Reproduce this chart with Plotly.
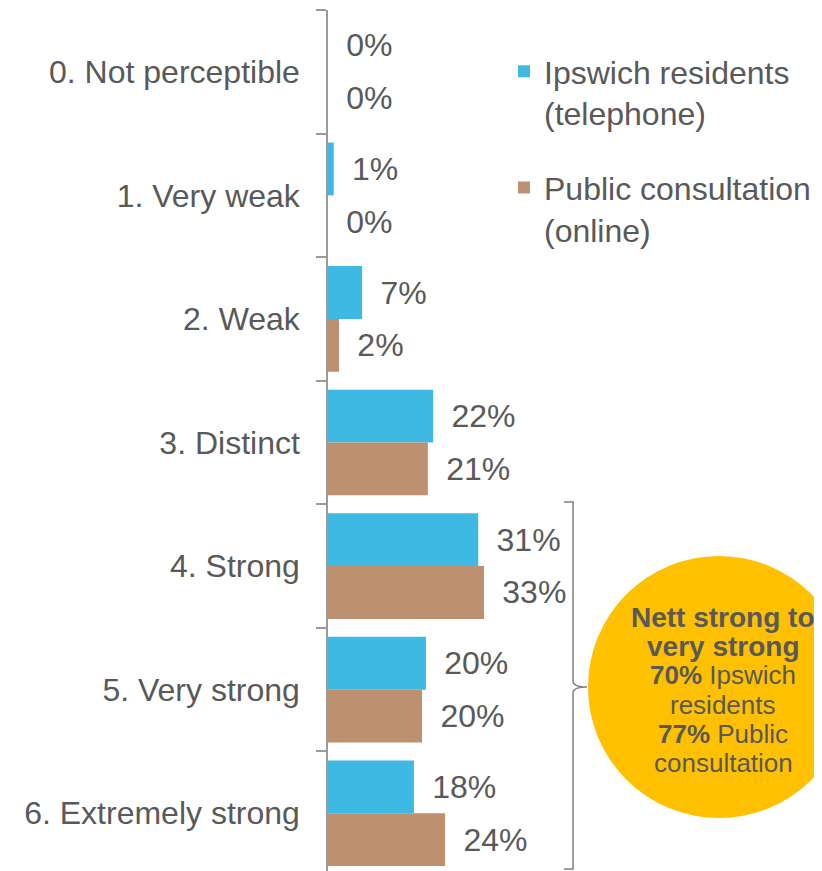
import plotly.graph_objects as go

# Perceived odour strength, share of respondents
categories = [
    "0. Not perceptible",
    "1. Very weak",
    "2. Weak",
    "3. Distinct",
    "4. Strong",
    "5. Very strong",
    "6. Extremely strong",
]
ipswich_values = [0, 1.2, 7.1, 21.9, 31.3, 20.4, 17.9]
public_values = [0, 0, 2.3, 20.8, 32.5, 19.6, 24.4]
ipswich_labels = [0, 1, 7, 22, 31, 20, 18]
public_labels = [0, 0, 2, 21, 33, 20, 24]

series_names = ["Ipswich residents<br>(telephone)", "Public consultation<br>(online)"]
circle_lines = [
    "<b>Nett strong to</b>",
    "<b>very strong</b>",
    "<b>70%</b> Ipswich",
    "residents",
    "<b>77%</b> Public",
    "consultation",
]

BLUE = "#3DB9E3"
BROWN = "#BD9170"
GOLD = "#FFC000"
TEXT = "#595959"
AXIS = "#9A9A9A"
FONT = "Liberation Sans, Arial, sans-serif"

# the page body adds an 8px margin, so every page position below is
# shifted back by that amount; the bottom of the figure runs off the page
PAGE_OFF = 8
FIG_W, FIG_H = 822 - PAGE_OFF, 871
PLOT_L, PLOT_W = 328 - PAGE_OFF, 240
PLOT_T, PLOT_H = 10 - PAGE_OFF, 865


def px_x(p):
    return (p - PAGE_OFF - PLOT_L) / PLOT_W


def px_y(p):
    return 1 - (p - PAGE_OFF - PLOT_T) / PLOT_H


def pct_text(labels):
    # a non-breaking + thin space push the label away from the bar end
    return ["\u00a0\u2009" + f"{v}%" for v in labels]


fig = go.Figure()
for name, values, labels, color, group in [
    (series_names[0], ipswich_values, ipswich_labels, BLUE, "a"),
    (series_names[1], public_values, public_labels, BROWN, "b"),
]:
    fig.add_trace(
        go.Bar(
            y=categories,
            x=values,
            orientation="h",
            name=name,
            legendgroup=group,
            marker=dict(color=color, line=dict(width=0)),
            text=pct_text(labels),
            textposition="outside",
            textfont=dict(size=32, color=TEXT, family=FONT),
            cliponaxis=False,
        )
    )

# gold circle with the nett score
fig.add_shape(
    type="circle",
    xref="paper",
    yref="paper",
    x0=px_x(588),
    x1=px_x(850),
    y0=px_y(818),
    y1=px_y(556),
    fillcolor=GOLD,
    line=dict(width=0),
)

# bracket grouping the strong categories
bx, top, mid, bottom = 573, 502, 687, 869
path = (
    f"M {px_x(bx - 9)},{px_y(top)} L {px_x(bx)},{px_y(top)} "
    f"L {px_x(bx)},{px_y(mid - 6)} Q {px_x(bx)},{px_y(mid)} {px_x(bx + 14)},{px_y(mid)} "
    f"Q {px_x(bx)},{px_y(mid)} {px_x(bx)},{px_y(mid + 6)} "
    f"L {px_x(bx)},{px_y(bottom)} L {px_x(bx - 9)},{px_y(bottom)}"
)
fig.add_shape(type="path", xref="paper", yref="paper", path=path, line=dict(color="#7F7F7F", width=1.5))

for i, line in enumerate(circle_lines):
    fig.add_annotation(
        x=px_x(723),
        y=px_y(617 + i * 29.2),
        xref="paper",
        yref="paper",
        text=line,
        showarrow=False,
        xanchor="center",
        yanchor="middle",
        font=dict(size=28 if i < 2 else 26, color=TEXT, family=FONT),
    )

fig.update_layout(
    width=FIG_W,
    height=FIG_H,
    margin=dict(l=PLOT_L, r=FIG_W - PLOT_L - PLOT_W, t=PLOT_T, b=FIG_H - PLOT_T - PLOT_H),
    barmode="group",
    bargap=0.145,
    bargroupgap=0,
    plot_bgcolor="white",
    paper_bgcolor="white",
    font=dict(family=FONT, color=TEXT, size=32),
    legend=dict(
        x=px_x(504),
        y=px_y(44),
        xanchor="left",
        yanchor="top",
        valign="top",
        tracegroupgap=30,
        font=dict(size=32, color=TEXT, family=FONT),
        bgcolor="rgba(0,0,0,0)",
    ),
    showlegend=True,
)
fig.update_xaxes(range=[0, 50], visible=False, showgrid=False)
fig.update_yaxes(
    autorange="reversed",
    showline=True,
    linecolor=AXIS,
    linewidth=1.5,
    ticks="outside",
    ticklen=10,
    tickwidth=1.5,
    tickcolor=AXIS,
    tickson="boundaries",
    ticklabelstandoff=20,
    showgrid=False,
    tickfont=dict(size=32, color=TEXT, family=FONT),
)

fig.write_html("out.html")
